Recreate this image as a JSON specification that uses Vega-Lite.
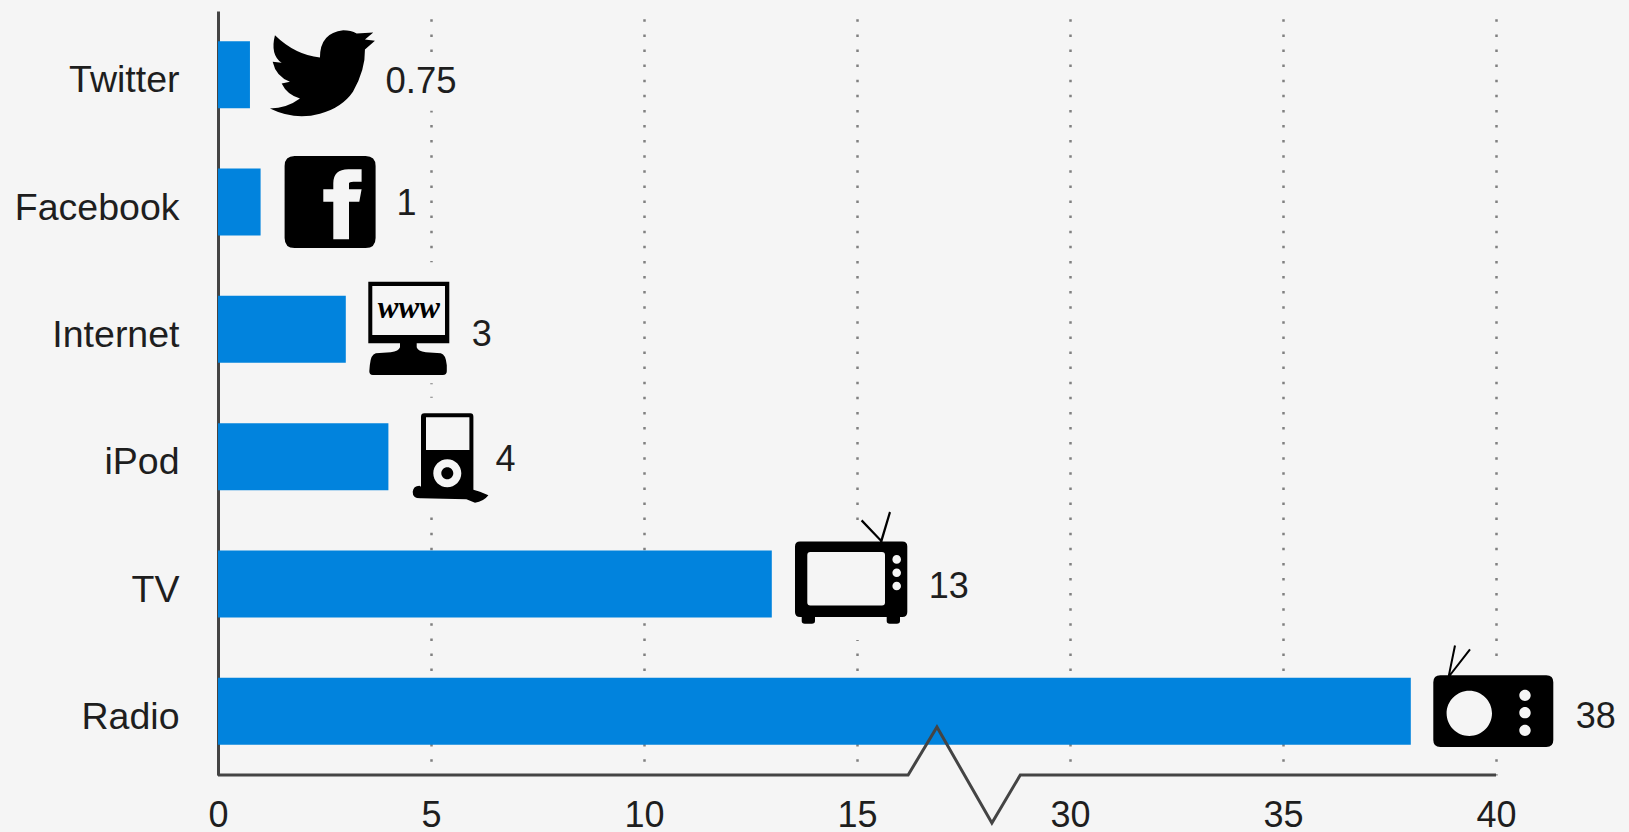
{"$schema":"https://vega.github.io/schema/vega-lite/v6.json","width":1278,"height":764,"autosize":{"type":"none"},"padding":{"left":218,"top":11,"right":133,"bottom":57},"background":"#F5F5F5","config":{"view":{"stroke":null},"font":"Liberation Sans"},"data":{"values":[{"Medium":"Twitter","Value":0.75},{"Medium":"Facebook","Value":1},{"Medium":"Internet","Value":3},{"Medium":"iPod","Value":4},{"Medium":"TV","Value":13},{"Medium":"Radio","Value":38}]},"resolve":{"scale":{"y":"independent"}},"layer":[{"encoding":{"x":{"field":"Value","type":"quantitative","title":null,"scale":{"domain":[0,15,30,40],"range":[0,639,852,1278],"nice":false},"axis":{"values":[0,5,10,15,30,35,40],"domain":false,"ticks":false,"grid":true,"gridDash":[2.5,12.6],"gridDashOffset":1.3,"gridWidth":2.5,"gridColor":"#808080","labelFontSize":36,"labelColor":"#1e1e1e","labelPadding":23,"labelOverlap":false,"labelFlush":false,"format":"d"}},"y":{"field":"Medium","type":"nominal","title":null,"sort":["Twitter","Facebook","Internet","iPod","TV","Radio"],"scale":{"paddingInner":0,"paddingOuter":0},"axis":{"domain":true,"domainColor":"#444444","domainWidth":3,"ticks":false,"grid":false,"labelFontSize":37.5,"labelColor":"#1e1e1e","labelPadding":39,"labelOffset":6.5}}},"resolve":{"scale":{"shape":"independent"}},"layer":[{"mark":{"type":"bar","size":67,"color":"#0183DD"},"encoding":{"x":{"field":"Value","type":"quantitative","stack":null,"title":null,"scale":{"domain":[0,15,30,40],"range":[0,639,852,1278],"nice":false}}}},{"mark":{"type":"point","filled":true,"size":4,"opacity":1,"color":"#F5F5F5"},"encoding":{"shape":{"field":"Medium","type":"nominal","legend":null,"scale":{"domain":["Twitter","Facebook","Internet","iPod","TV","Radio"],"range":["M130 -22 L215 -22 L215 36 L130 36 Z","M24 -10 L30 -10 L30 10 L24 10 Z","M20 -67 L150 -67 L150 54 L20 54 Z","M20 -59 L110 -59 L110 58 L20 58 Z","M20 -63.5 L200 -63.5 L200 56 L20 56 Z","M20 -55 L215 -55 L215 47 L20 47 Z"]}}}},{"mark":{"type":"point","filled":true,"size":4,"opacity":1,"color":"#000000"},"encoding":{"shape":{"field":"Medium","type":"nominal","legend":null,"scale":{"domain":["Twitter","Facebook","Internet","iPod","TV","Radio"],"range":["M93.3 -44.5 Q101 -44.5 106.7 -41.2 L123.3 -42.2 L115 -35.2 L125 -33.8 L115 -25.2 Q115.5 -5 103 17 Q92 33 70 39 Q45 46 20 33.8 Q37 33.5 50 23.8 Q37 20 31.7 8.8 L40 7.2 Q26 2 22.7 -12.8 L31.7 -11.8 Q20 -20 25 -39.5 Q45 -20 70 -17.2 Q70 -42 93.3 -44.5 Z","M34 -46 L105 -46 Q115 -46 115 -36 L115 36 Q115 46 105 46 L34 46 Q24 46 24 36 L24 -36 Q24 -46 34 -46 Z M72.7 37.3 L88.4 37.3 L88.4 -0.3 L98.7 -0.3 L101 -12.7 L88.4 -12.7 L88.4 -18.7 Q88.4 -20.3 92.7 -20.3 L101 -20.3 L101 -32.7 L87.7 -32.7 Q72.7 -32.7 72.7 -18.7 L72.7 -12.7 L62.7 -12.7 L62.7 -0.3 L72.7 -0.3 Z","M22.5 -47.6 L103.5 -47.6 L103.5 14 L22.5 14 Z M26.5 -43.3 L26.5 5.7 L99.2 5.7 L99.2 -43.3 Z M54.2 13 L70.9 13 L70.9 18 Q72 22 80 23 L95 24 Q100 25 101 36 L101 42 Q101 45.7 97 45.7 L27 45.7 Q23.5 45.7 23.5 42 L24 36 Q25 25 30 24 L45 23 Q53 22 54.2 18 Z","M36 -43.4 L82 -43.4 Q85 -43.4 85 -40 L85 38 Q85 41.6 82 41.6 L36 41.6 Q32.6 41.6 32.6 38 L32.6 -40 Q32.6 -43.4 36 -43.4 Z M37.6 -39.4 L37.6 -6.7 L81 -6.7 L81 -39.4 Z M44.9 16.6 A14 14 0 0 0 72.9 16.6 A14 14 0 0 0 44.9 16.6 Z M52.9 16.6 A6 6 0 0 1 64.9 16.6 A6 6 0 0 1 52.9 16.6 Z M24.3 35 Q25 29 31 29 L36 32 L85 33 L91.6 35 L100 38.6 Q95 45 86.6 46 L78 42.6 L33 41.6 Q24 42 24.3 35 Z","M28.2 -42.6 L130.5 -42.6 Q135.5 -42.6 135.5 -37.6 L135.5 28 Q135.5 33 130.5 33 L128.2 33 L128.2 37 Q128.2 39.7 125 39.7 L118 39.7 Q114.9 39.7 114.9 37 L114.9 33 L43.2 33 L43.2 37 Q43.2 39.7 40 39.7 L33 39.7 Q29.9 39.7 29.9 37 L29.9 33 L28.2 33 Q23.2 33 23.2 28 L23.2 -37.6 Q23.2 -42.6 28.2 -42.6 Z M38.5 -31.9 Q35.5 -31.9 35.5 -28.9 L35.5 18.4 Q35.5 21.4 38.5 21.4 L110.2 21.4 Q113.2 21.4 113.2 18.4 L113.2 -28.9 Q113.2 -31.9 110.2 -31.9 Z M120.6 -24.6 A4.3 4.3 0 0 0 129.2 -24.6 A4.3 4.3 0 0 0 120.6 -24.6 Z M120.6 -11.3 A4.3 4.3 0 0 0 129.2 -11.3 A4.3 4.3 0 0 0 120.6 -11.3 Z M120.6 2 A4.3 4.3 0 0 0 129.2 2 A4.3 4.3 0 0 0 120.6 2 Z M108 -42 L117.2 -72.4 L119.2 -71.6 L110.5 -42 Z M108.5 -42.5 L89 -62.8 L90.6 -64.4 L110 -44 Z","M29.5 -36 L135.5 -36 Q142.5 -36 142.5 -29 L142.5 28.7 Q142.5 35.7 135.5 35.7 L29.5 35.7 Q22.5 35.7 22.5 28.7 L22.5 -29 Q22.5 -36 29.5 -36 Z M35.8 2 A22.7 22.7 0 0 0 81.2 2 A22.7 22.7 0 0 0 35.8 2 Z M108.5 -16 A5.7 5.7 0 0 0 119.9 -16 A5.7 5.7 0 0 0 108.5 -16 Z M108.5 1.3 A5.7 5.7 0 0 0 119.9 1.3 A5.7 5.7 0 0 0 108.5 1.3 Z M108.5 19 A5.7 5.7 0 0 0 119.9 19 A5.7 5.7 0 0 0 108.5 19 Z M37 -35.5 L43.2 -66 L45.2 -65.6 L39 -35.5 Z M37.5 -35.5 L58.4 -62.6 L60 -61.4 L39.5 -35 Z"]}}}},{"transform":[{"filter":"datum.Medium==='Twitter'"}],"mark":{"type":"text","align":"left","baseline":"alphabetic","fontSize":36.5,"color":"#1e1e1e","dx":135.5,"dy":18.8},"encoding":{"text":{"field":"Value","type":"quantitative"}}},{"transform":[{"filter":"datum.Medium==='Facebook'"}],"mark":{"type":"text","align":"left","baseline":"alphabetic","fontSize":36,"color":"#1e1e1e","dx":136,"dy":13},"encoding":{"text":{"field":"Value","type":"quantitative"}}},{"transform":[{"filter":"datum.Medium==='Internet'"}],"mark":{"type":"text","align":"left","baseline":"alphabetic","fontSize":36,"color":"#1e1e1e","dx":126,"dy":16.7},"encoding":{"text":{"field":"Value","type":"quantitative"}}},{"transform":[{"filter":"datum.Medium==='iPod'"}],"mark":{"type":"text","align":"left","baseline":"alphabetic","fontSize":36,"color":"#1e1e1e","dx":107,"dy":14},"encoding":{"text":{"field":"Value","type":"quantitative"}}},{"transform":[{"filter":"datum.Medium==='TV'"}],"mark":{"type":"text","align":"left","baseline":"alphabetic","fontSize":36,"color":"#1e1e1e","dx":157,"dy":13.7},"encoding":{"text":{"field":"Value","type":"quantitative"}}},{"transform":[{"filter":"datum.Medium==='Radio'"}],"mark":{"type":"text","align":"left","baseline":"alphabetic","fontSize":36,"color":"#1e1e1e","dx":165,"dy":16.7},"encoding":{"text":{"field":"Value","type":"quantitative"}}},{"transform":[{"filter":"datum.Medium==='Internet'"}],"mark":{"type":"text","align":"center","baseline":"alphabetic","font":"Liberation Serif","fontStyle":"italic","fontWeight":"bold","fontSize":31,"color":"#000000","dx":63,"dy":-11,"text":"www"}}]},{"data":{"values":[{"position":0,"level":0},{"position":18.6,"level":0},{"position":20.63,"level":48},{"position":24.5,"level":-48},{"position":26.5,"level":0},{"position":40,"level":0}]},"mark":{"type":"line","color":"#444444","strokeWidth":3,"strokeJoin":"miter"},"encoding":{"x":{"field":"position","type":"quantitative","title":null,"scale":{"domain":[0,15,30,40],"range":[0,639,852,1278],"nice":false}},"y":{"field":"level","type":"quantitative","title":null,"axis":null,"scale":{"domain":[0,764],"nice":false}}}}]}
